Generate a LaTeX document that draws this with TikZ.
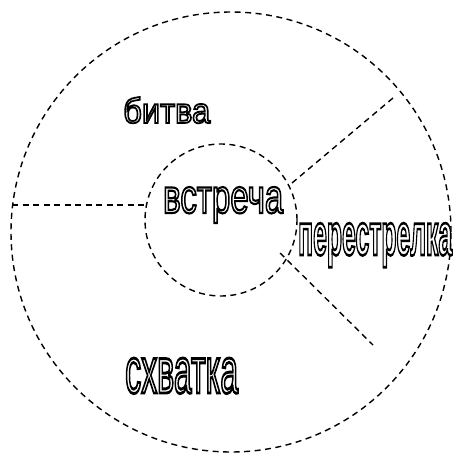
\documentclass[tikz,border=0pt]{standalone}
\usepackage{fontspec}
\setmainfont{Liberation Sans}
\usepackage{graphicx}
\newcommand\outlinetext[2]{\special{pdf:literal direct #1 w 1 Tr}#2\special{pdf:literal direct 0 Tr}}
\tikzset{
  dline/.style={draw=black, line width=1.4pt, dash pattern=on 6pt off 4.5pt},
  word/.style={inner sep=0pt, anchor=base west, font=\fontsize{20}{24}\selectfont}
}
\begin{document}
\begin{tikzpicture}[x=1pt,y=-1pt]
\useasboundingbox (0,0) rectangle (454,454);
\fill[white] (0,0) rectangle (454,454);
% outer circle
\node[circle, dline, minimum size=440pt, inner sep=0pt] (outer) at (231,232) {};
% inner circle
\node[circle, dline, minimum size=152pt, inner sep=0pt] (inner) at (221,220) {};
% connector end points
\coordinate (ll) at (12,205);
\coordinate (lr) at (146,205);
\coordinate (ua) at (292,183);
\coordinate (ub) at (393,98);
\coordinate (da) at (280,253);
\coordinate (db) at (373,345);
\draw[dline] (ll) -- (lr);
\draw[dline] (ua) -- (ub);
\draw[dline] (da) -- (db);
% words
\node[word] (bitva) at (123,123) {\resizebox{87pt}{26pt}{\outlinetext{1.0}{битва}}};
\node[word] (vstrecha) at (163,213) {\resizebox{120pt}{26pt}{\outlinetext{0.9}{встреча}}};
\node[word] (perestrelka) at (298,255) {\resizebox{154pt}{32pt}{\outlinetext{0.9}{\bfseries перестрелка}}};
\node[word] (skhvatka) at (125,393) {\resizebox{113pt}{35pt}{\outlinetext{0.9}{схватка}}};
\end{tikzpicture}
\end{document}
